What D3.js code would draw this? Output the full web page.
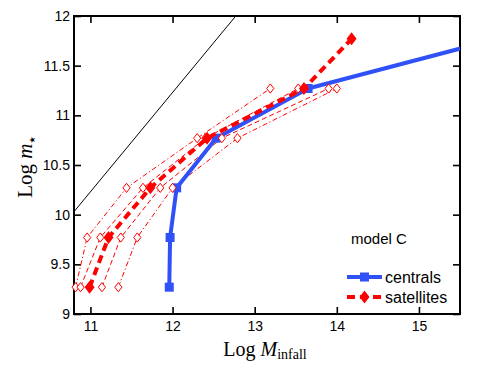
<!DOCTYPE html>
<html lang="en">
<head>
<meta charset="utf-8">
<title>Log m* vs Log M_infall</title>
<script src="https://d3js.org/d3.v7.min.js"></script>
<style>
  body { margin: 0; background: #fff; }
  .tick text { font-family: "Liberation Sans", Arial, sans-serif; font-size: 14px; fill: #000; }
  .lbl { font-family: "Liberation Serif", "DejaVu Serif", serif; fill: #000; }
  .leg { font-family: "Liberation Sans", Arial, sans-serif; fill: #000; }
</style>
</head>
<body>
<div id="chart"></div>
<script>
// centrals (blue squares) - last point lies outside the frame
var mInfallCen = [11.96, 11.97, 12.05, 12.53, 13.65, 16.0];
var mStarCen   = [9.27, 9.77, 10.27, 10.77, 11.27, 11.78];
// satellites median (filled diamonds)
var mInfallSat = [10.99, 11.22, 11.73, 12.42, 13.60, 14.18];
var mStarSat   = [9.27, 9.77, 10.27, 10.77, 11.27, 11.77];
// satellite spread (open diamonds)
var mStarBins = [9.27, 9.77, 10.27, 10.77, 11.27];
var satLow2  = [10.82, 10.96, 11.44, 12.30, 13.19];
var satLow1  = [10.88, 11.12, 11.64, 12.40, 13.53];
var satHigh1 = [11.14, 11.37, 11.85, 12.60, 13.90];
var satHigh2 = [11.34, 11.57, 12.00, 12.79, 14.00];
// baryon fraction line
var baryonX = [10.8, 12.77];
var baryonY = [10.03, 12.0];

var xTicks = [11, 12, 13, 14, 15];
var yTicks = [9, 9.5, 10, 10.5, 11, 11.5, 12];

var margin = {top: 16, right: 31, bottom: 55, left: 74},
    W = 491, H = 369,
    width = W - margin.left - margin.right,
    height = H - margin.top - margin.bottom;

var svg = d3.select("#chart").append("svg")
    .attr("width", W).attr("height", H);
var g = svg.append("g")
    .attr("transform", "translate(" + margin.left + "," + margin.top + ")");

var x = d3.scaleLinear().domain([10.8, 15.5]).range([0, width]);
var y = d3.scaleLinear().domain([9, 12]).range([height, 0]);

g.append("clipPath").attr("id", "clip")
  .append("rect").attr("width", width).attr("height", height);

// axes, ticks inside
var fmtY = function(d) { return d % 1 === 0 ? d3.format("d")(d) : d3.format(".1f")(d); };
g.append("g").attr("transform", "translate(0," + height + ")")
  .call(d3.axisBottom(x).tickValues(xTicks).tickSize(-7).tickPadding(7).tickFormat(d3.format("d")));
g.append("g")
  .call(d3.axisLeft(y).tickValues(yTicks).tickSize(-7).tickPadding(4).tickFormat(fmtY));
g.append("g")
  .call(d3.axisTop(x).tickValues(xTicks).tickSize(-7).tickFormat(""));
g.append("g").attr("transform", "translate(" + width + ",0)")
  .call(d3.axisRight(y).tickValues(yTicks).tickSize(-7).tickFormat(""));
g.selectAll(".domain").remove();
g.selectAll(".tick line").attr("stroke", "#000").attr("stroke-width", 1.6);
g.append("rect").attr("width", width).attr("height", height)
  .attr("fill", "none").attr("stroke", "#000").attr("stroke-width", 2);

var line = d3.line().x(function(d) { return x(d[0]); }).y(function(d) { return y(d[1]); });
var plot = g.append("g").attr("clip-path", "url(#clip)");

// baryon line
plot.append("path").datum(d3.zip(baryonX, baryonY))
  .attr("d", line).attr("fill", "none").attr("stroke", "#000").attr("stroke-width", 1);

function diamond(w, h) {
  return "M0," + (-h) + "L" + w + ",0L0," + h + "L" + (-w) + ",0Z";
}

// spread lines
var spread = [
  {xs: satLow2, dash: "5,2.5,1.2,2.5"},
  {xs: satLow1, dash: "5,3"},
  {xs: satHigh1, dash: "5,3"},
  {xs: satHigh2, dash: "5,2.5,1.2,2.5"}
];
spread.forEach(function(s) {
  var pts = d3.zip(s.xs, mStarBins);
  plot.append("path").datum(pts).attr("d", line)
    .attr("fill", "none").attr("stroke", "#ff0000").attr("stroke-width", 1)
    .attr("stroke-dasharray", s.dash);
  g.selectAll(null).data(pts).enter().append("path")
    .attr("transform", function(d) { return "translate(" + x(d[0]) + "," + y(d[1]) + ")"; })
    .attr("d", diamond(3.6, 4.6))
    .attr("fill", "#fff").attr("stroke", "#ff0000").attr("stroke-width", 1);
});

// centrals
var cen = d3.zip(mInfallCen, mStarCen);
plot.append("path").datum(cen).attr("d", line)
  .attr("fill", "none").attr("stroke", "#3050f8").attr("stroke-width", 4)
  .attr("stroke-linejoin", "round");
plot.selectAll(null).data(cen).enter().append("rect")
  .attr("x", function(d) { return x(d[0]) - 4.5; })
  .attr("y", function(d) { return y(d[1]) - 4.5; })
  .attr("width", 9).attr("height", 9).attr("fill", "#3050f8");

// satellites
var sat = d3.zip(mInfallSat, mStarSat);
plot.append("path").datum(sat).attr("d", line)
  .attr("fill", "none").attr("stroke", "#ff0000").attr("stroke-width", 4)
  .attr("stroke-dasharray", "8,5");
g.selectAll(null).data(sat).enter().append("path")
  .attr("transform", function(d) { return "translate(" + x(d[0]) + "," + y(d[1]) + ")"; })
  .attr("d", diamond(5, 6.5)).attr("fill", "#ff0000");

// legend
g.append("text").attr("class", "leg").attr("x", 277).attr("y", 228)
  .attr("font-size", 15).text("model C");
var leg = g.append("g").attr("transform", "translate(273,261)");
leg.append("line").attr("x1", 0).attr("x2", 35).attr("y1", 0).attr("y2", 0)
  .attr("stroke", "#3050f8").attr("stroke-width", 4);
leg.append("rect").attr("x", 13).attr("y", -4.5).attr("width", 9).attr("height", 9).attr("fill", "#3050f8");
leg.append("text").attr("class", "leg").attr("x", 38).attr("y", 5.5).attr("font-size", 16).text("centrals");
leg.append("line").attr("x1", 0).attr("x2", 35).attr("y1", 20).attr("y2", 20)
  .attr("stroke", "#ff0000").attr("stroke-width", 4).attr("stroke-dasharray", "8,5");
leg.append("path").attr("transform", "translate(17.5,20)").attr("d", diamond(5, 6.5)).attr("fill", "#ff0000");
leg.append("text").attr("class", "leg").attr("x", 38).attr("y", 25.5).attr("font-size", 16).text("satellites");

// axis labels
var xl = svg.append("text").attr("class", "lbl").attr("x", 265).attr("y", 356)
  .attr("text-anchor", "middle").attr("font-size", 20);
xl.append("tspan").text("Log ");
xl.append("tspan").attr("font-style", "italic").text("M");
xl.append("tspan").attr("font-size", 14).attr("dy", 3).text("infall");

var yl = svg.append("text").attr("class", "lbl")
  .attr("transform", "translate(32,167) rotate(-90)")
  .attr("text-anchor", "middle").attr("font-size", 21);
yl.append("tspan").text("Log ");
yl.append("tspan").attr("font-style", "italic").text("m");
yl.append("tspan").attr("font-family", "DejaVu Sans").attr("font-size", 8).attr("dy", 3).text("\u2605");
</script>
</body>
</html>
